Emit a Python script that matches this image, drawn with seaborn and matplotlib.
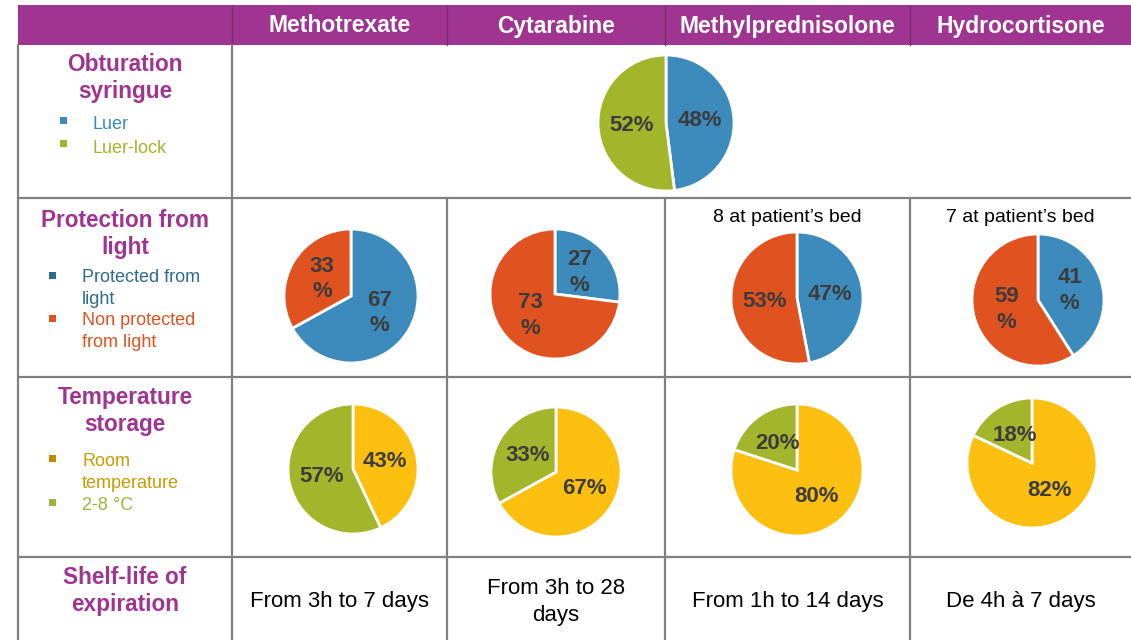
import matplotlib
matplotlib.use("Agg")
import matplotlib.pyplot as plt
from matplotlib.patches import Rectangle
import seaborn as sns

# ── Data ───────────────────────────────────────────────────────────────────────
drugs = ["Methotrexate", "Cytarabine", "Methylprednisolone", "Hydrocortisone"]

syringe_title = "Obturation\nsyringue"
syringe_labels = ["Luer", "Luer-lock"]
syringe_pct = [48, 52]

light_title = "Protection from\nlight"
light_labels = ["Protected from\nlight", "Non protected\nfrom light"]
light_protected = [67, 27, 47, 41]
light_unprotected = [33, 73, 53, 59]
light_split = [True, True, False, True]
bedside_notes = ["", "", "8 at patient’s bed", "7 at patient’s bed"]

temp_title = "Temperature\nstorage"
temp_labels = ["Room\ntemperature", "2-8 °C"]
temp_room = [43, 67, 80, 82]
temp_cold = [57, 33, 20, 18]

shelf_title = "Shelf-life of\nexpiration"
shelf_life = ["From 3h to 7 days", "From 3h to 28\ndays",
              "From 1h to 14 days", "De 4h à 7 days"]

# ── Style ──────────────────────────────────────────────────────────────────────
PURPLE = "#9f3590"
BLUE = "#3d8bbd"
ORANGE = "#e05320"
GREEN = "#a2b52b"
YELLOW = "#fdbf10"
GRID = "#808080"
PCT_COLOR = "#3c3c3c"

sns.set_theme(style="white")
plt.rcParams["font.family"] = ["Liberation Sans", "DejaVu Sans"]

W, H = 1131, 640
fig = plt.figure(figsize=(W / 100, H / 100), dpi=100)
fig.patch.set_facecolor("white")

# background axes in pixel coordinates
bg = fig.add_axes([0, 0, 1, 1])
bg.set_xlim(0, W)
bg.set_ylim(H, 0)
bg.axis("off")

col_edges = [18, 232, 447, 665, 910, 1131]
row_edges = [45, 198, 377, 557, 640]
col_centers = [(a + b) / 2 for a, b in zip(col_edges[1:-1], col_edges[2:])]

# header band
bg.add_patch(Rectangle((18, 5), W - 18, 40, color=PURPLE, lw=0))
for x in col_edges[1:-1]:
    bg.plot([x, x], [5, 45], color="#7b2a6f", lw=1)
for name, cx in zip(drugs, col_centers):
    bg.text(cx, 26, name, color="white", fontsize=16.5, fontweight="bold",
            ha="center", va="center")

# grid lines
for y in row_edges[1:-1]:
    bg.plot([18, W], [y, y], color=GRID, lw=1.6)
bg.plot([18, 18], [45, H], color=GRID, lw=1.6)
bg.plot([232, 232], [45, H], color=GRID, lw=1.6)
for x in col_edges[2:-1]:
    bg.plot([x, x], [198, H], color=GRID, lw=1.6)


# ── Left column: row titles and legends ───────────────────────────────────────
def row_title(text, y):
    bg.text(125, y, text, color=PURPLE, fontsize=16.3, fontweight="bold",
            ha="center", va="center", linespacing=1.27)


def legend_item(mx, my, tx, ty, text, color, marker_color=None):
    bg.add_patch(Rectangle((mx - 3.5, my - 3.5), 7, 7,
                           color=marker_color or color, lw=0))
    bg.text(tx, ty, text, color=color, fontsize=13, ha="left", va="top",
            linespacing=1.42)


row_title(syringe_title, 78)
legend_item(63, 120, 93, 116, syringe_labels[0], BLUE)
legend_item(63, 143, 93, 140, syringe_labels[1], GREEN)

row_title(light_title, 234)
legend_item(52, 275, 82, 269, light_labels[0], "#2f6b8c", "#2c6a8f")
legend_item(52, 318, 82, 312, light_labels[1], ORANGE)

row_title(temp_title, 411)
legend_item(52, 458, 82, 453, temp_labels[0], "#c99b00", "#c08a00")
legend_item(52, 502, 82, 497, temp_labels[1], "#9bb53a")

row_title(shelf_title, 591)

# shelf-life texts
for txt, cx in zip(shelf_life, col_centers):
    bg.text(cx, 602, txt, color="black", fontsize=16, ha="center",
            va="center", linespacing=1.4)

# bedside notes above light pies
for note, cx in zip(bedside_notes, col_centers):
    if note:
        bg.text(cx, 217, note, color="black", fontsize=14, ha="center",
                va="center")


# ── Pies ───────────────────────────────────────────────────────────────────────
def draw_pie(cx, cy, r, values, colors, split=False):
    pad = 1.04
    ax = fig.add_axes([(cx - r * pad) / W, 1 - (cy + r * pad) / H,
                       2 * r * pad / W, 2 * r * pad / H])
    fmt = (lambda p: f"{p:.0f}\n%") if split else (lambda p: f"{p:.0f}%")
    _, _, texts = ax.pie(values, colors=colors, startangle=90,
                         counterclock=False, autopct=fmt, pctdistance=0.5,
                         wedgeprops=dict(edgecolor="white", linewidth=2))
    for t in texts:
        t.set_color(PCT_COLOR)
        t.set_fontsize(16)
        t.set_fontweight("bold")
        t.set_linespacing(1.3)
    ax.set_xlim(-pad, pad)
    ax.set_ylim(-pad, pad)
    ax.set_aspect("equal")
    ax.axis("off")


draw_pie(666, 123, 68, syringe_pct, [BLUE, GREEN])

light_centers = [(351, 296, 67), (555, 294, 65), (797, 298, 66), (1038, 300, 66)]
for (cx, cy, r), p, u, s in zip(light_centers, light_protected,
                                light_unprotected, light_split):
    draw_pie(cx, cy, r, [p, u], [BLUE, ORANGE], split=s)

temp_centers = [(353, 469, 65), (556, 472, 65), (797, 470, 66), (1032, 463, 65)]
for (cx, cy, r), room, cold in zip(temp_centers, temp_room, temp_cold):
    draw_pie(cx, cy, r, [room, cold], [YELLOW, GREEN])

fig.savefig("out.png", dpi=100)
